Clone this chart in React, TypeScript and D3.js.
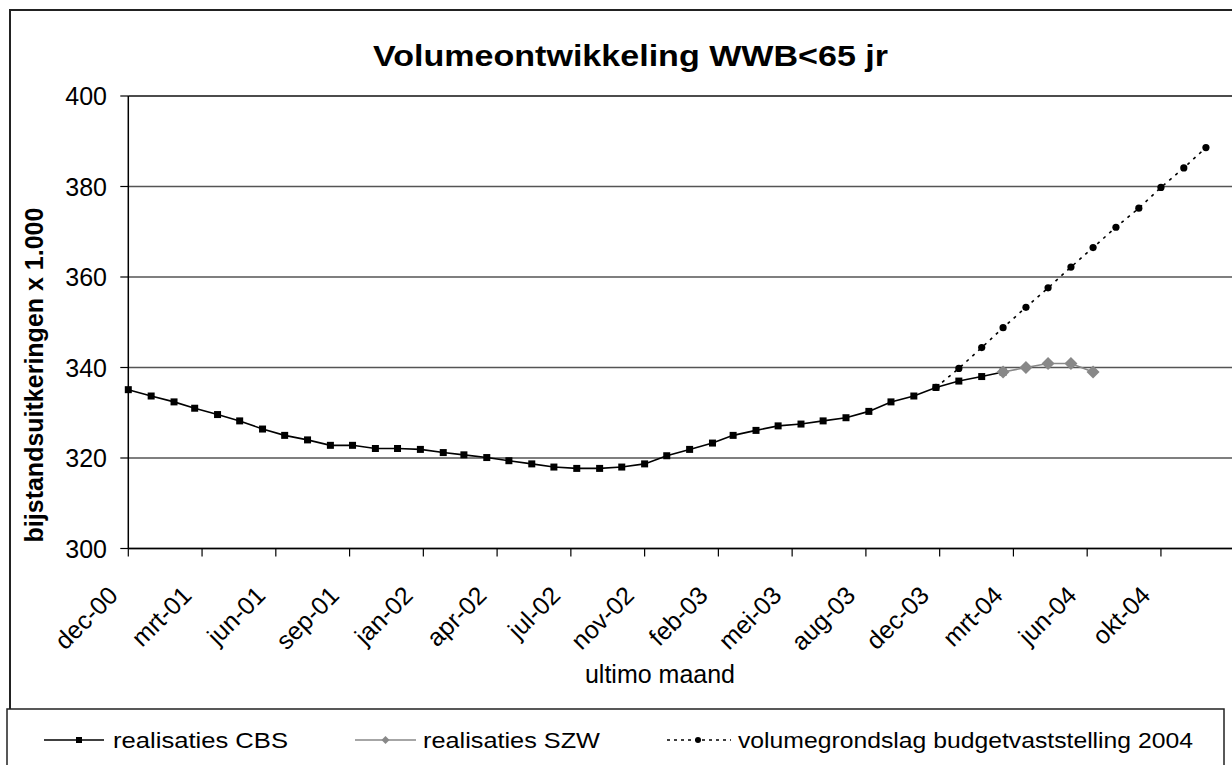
import React from 'react';
import * as d3 from 'd3';

// Data (thousands of benefits, end of month)
const axisStart = new Date(2000, 11, 1);
const tickLabels = ['dec-00', 'mrt-01', 'jun-01', 'sep-01', 'jan-02', 'apr-02', 'jul-02', 'nov-02',
    'feb-03', 'mei-03', 'aug-03', 'dec-03', 'mrt-04', 'jun-04', 'okt-04'];
const yTicks = [300, 320, 340, 360, 380, 400];

// realisaties CBS: dec-00 .. mrt-04
const cbsStart = new Date(2000, 11, 1);
const cbsValues = [335.1, 333.7, 332.4, 331.0, 329.6, 328.2, 326.4, 325.0, 324.0, 322.8, 322.8, 322.1,
    322.1, 321.9, 321.2, 320.7, 320.1, 319.4, 318.7, 318.0, 317.7, 317.7, 318.0, 318.7,
    320.5, 321.9, 323.3, 325.0, 326.1, 327.1, 327.5, 328.2, 328.9, 330.3, 332.4, 333.7,
    335.6, 337.0, 338.0, 339.0];

// realisaties SZW: mrt-04 .. jul-04
const szwStart = new Date(2004, 2, 1);
const szwValues = [339.0, 340.0, 340.9, 340.9, 339.0];

// volumegrondslag budgetvaststelling 2004: dec-03 .. dec-04
const volumeStart = new Date(2003, 11, 1);
const volumeValues = [335.6, 339.8, 344.4, 348.8, 353.3, 357.6, 362.2, 366.5, 371.0, 375.2, 379.8, 384.1, 388.6];

const FONT = '"Liberation Sans", Arial, Helvetica, sans-serif';

const toPoints = (start: Date, values: number[]) =>
    values.map((v, i) => ({ date: d3.timeMonth.offset(start, i), value: v }));

const App = () => {
    const width = 1232;
    const height = 765;
    const plot = { left: 128.3, right: 1234.7, top: 96, bottom: 548.5 };

    const x = d3.scaleTime()
        .domain([axisStart, d3.timeDay.offset(axisStart, 1500)])
        .range([plot.left, plot.right]);
    const y = d3.scaleLinear().domain([300, 400]).range([plot.bottom, plot.top]);

    const tickDates = tickLabels.map((_, i) => d3.timeDay.offset(axisStart, i * 100));

    const line = d3.line<{ date: Date; value: number }>()
        .x(d => x(d.date))
        .y(d => y(d.value));

    const cbs = toPoints(cbsStart, cbsValues);
    const szw = toPoints(szwStart, szwValues);
    const volume = toPoints(volumeStart, volumeValues);

    const diamond = (cx: number, cy: number, r: number) =>
        `M${cx},${cy - r}L${cx + r},${cy}L${cx},${cy + r}L${cx - r},${cy}Z`;

    const legendY = 740;
    const legendText = legendY + 8;

    return (
        <svg width={width} height={height}
            style={{ position: 'absolute', left: 0, top: 0, background: '#fff', fontFamily: FONT }}>
            {/* chart border */}
            <rect x={10} y={10} width={1240} height={800} fill="#fff" stroke="#222" strokeWidth={2} />

            {/* gridlines */}
            {yTicks.map(t => (
                <line key={t} x1={plot.left} x2={plot.right} y1={y(t)} y2={y(t)}
                    stroke={t === 400 ? '#111' : '#555'} strokeWidth={1.5} />
            ))}

            {/* axes */}
            <line x1={plot.left} x2={plot.left} y1={plot.top} y2={plot.bottom} stroke="#000" strokeWidth={1.5} />
            <line x1={plot.left} x2={plot.right} y1={plot.bottom} y2={plot.bottom} stroke="#000" strokeWidth={1.5} />
            {yTicks.map(t => (
                <g key={t}>
                    <line x1={plot.left - 8} x2={plot.left} y1={y(t)} y2={y(t)} stroke="#000" strokeWidth={1.2} />
                    <text x={107} y={y(t)} dy="0.36em" textAnchor="end" fontSize={25}>{t}</text>
                </g>
            ))}
            {tickDates.map((d, i) => (
                <g key={i}>
                    <line x1={x(d)} x2={x(d)} y1={plot.bottom} y2={plot.bottom + 8} stroke="#000" strokeWidth={1.2} />
                    <text transform={`translate(${x(d) - 9},${597}) rotate(-45)`} textAnchor="end" fontSize={25}>
                        {tickLabels[i]}
                    </text>
                </g>
            ))}

            {/* series: CBS */}
            <path d={line(cbs) ?? ''} fill="none" stroke="#000" strokeWidth={1.6} />
            {cbs.map((p, i) => (
                <rect key={i} x={x(p.date) - 3.5} y={y(p.value) - 3.5} width={7} height={7} fill="#000" />
            ))}

            {/* series: SZW */}
            <path d={line(szw) ?? ''} fill="none" stroke="#888" strokeWidth={1.6} />
            {szw.map((p, i) => (
                <path key={i} d={diamond(x(p.date), y(p.value), 6.5)} fill="#888" />
            ))}

            {/* series: volume */}
            <path d={line(volume) ?? ''} fill="none" stroke="#000" strokeWidth={1.6} strokeDasharray="3,5" />
            {volume.map((p, i) => (
                <circle key={i} cx={x(p.date)} cy={y(p.value)} r={3.6} fill="#000" />
            ))}

            {/* titles */}
            <text x={373} y={66} fontSize={29} fontWeight="bold" textLength={515} lengthAdjust="spacingAndGlyphs">
                Volumeontwikkeling WWB&lt;65 jr
            </text>
            <text transform={`translate(43,375) rotate(-90)`} textAnchor="middle" fontSize={25} fontWeight="bold">
                bijstandsuitkeringen x 1.000
            </text>
            <text x={660} y={683} textAnchor="middle" fontSize={25}>ultimo maand</text>

            {/* legend */}
            <rect x={7} y={709} width={1217} height={100} fill="#fff" stroke="#222" strokeWidth={1.5} />
            <line x1={44} x2={104} y1={legendY} y2={legendY} stroke="#000" strokeWidth={1.5} />
            <rect x={76} y={legendY - 3} width={6} height={6} fill="#000" />
            <text x={113} y={legendText} fontSize={22} textLength={175} lengthAdjust="spacingAndGlyphs">realisaties CBS</text>

            <line x1={355} x2={416} y1={legendY} y2={legendY} stroke="#888" strokeWidth={1.5} />
            <path d={diamond(385.5, legendY, 4)} fill="#888" />
            <text x={423} y={legendText} fontSize={22} textLength={177} lengthAdjust="spacingAndGlyphs">realisaties SZW</text>

            <line x1={667} x2={731} y1={legendY} y2={legendY} stroke="#000" strokeWidth={1.5} strokeDasharray="3,4" />
            <circle cx={698} cy={legendY} r={3} fill="#000" />
            <text x={738} y={legendText} fontSize={22} textLength={455} lengthAdjust="spacingAndGlyphs">
                volumegrondslag budgetvaststelling 2004
            </text>
        </svg>
    );
};

export default App;
